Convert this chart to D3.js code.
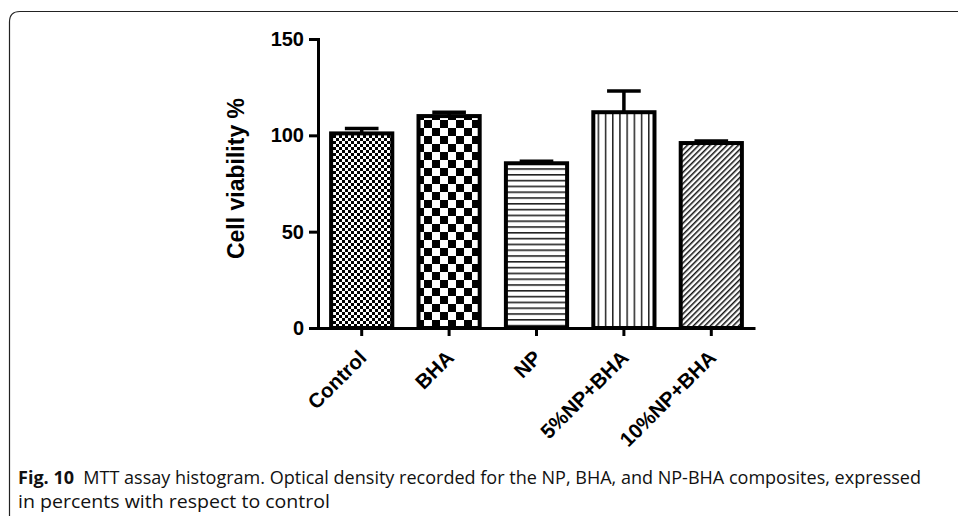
<!DOCTYPE html>
<html>
<head>
<meta charset="utf-8">
<script src="https://cdn.jsdelivr.net/npm/d3@7"></script>
<style>
  body { margin: 0; background: #fff; }
  svg { display: block; }
</style>
</head>
<body>
<div id="chart"></div>
<script>
// chart data
const categories = ['Control', 'BHA', 'NP', '5%NP+BHA', '10%NP+BHA'];
const viability = [101, 110, 85.5, 112, 96];
const errorUp = [2.5, 2, 1, 11, 1];
const yTicks = [0, 50, 100, 150];
const patternIds = ['fine-check', 'coarse-check', 'hlines', 'vlines', 'diag'];

const W = 958, H = 516;
const margin = {top: 39, left: 318, right: 203, bottom: 188};

const svg = d3.select('#chart')
  .append('svg')
  .attr('width', W)
  .attr('height', H);

// frame (rounded top-left corner)
svg.append('path')
  .attr('d', 'M9.5,516 L9.5,22 Q9.5,11.5 20,11.5 L958,11.5')
  .attr('fill', 'none')
  .attr('stroke', '#222')
  .attr('stroke-width', 1.2);

// fill patterns
const defs = svg.append('defs');

let p = defs.append('pattern').attr('id', 'fine-check')
  .attr('patternUnits', 'userSpaceOnUse').attr('width', 6).attr('height', 6);
p.append('rect').attr('width', 6).attr('height', 6).attr('fill', '#fff');
p.append('rect').attr('width', 3).attr('height', 3).attr('fill', '#000');
p.append('rect').attr('x', 3).attr('y', 3).attr('width', 3).attr('height', 3).attr('fill', '#000');

p = defs.append('pattern').attr('id', 'coarse-check')
  .attr('patternUnits', 'userSpaceOnUse').attr('width', 16).attr('height', 16);
p.append('rect').attr('width', 16).attr('height', 16).attr('fill', '#fff');
p.append('rect').attr('width', 8).attr('height', 8).attr('fill', '#000');
p.append('rect').attr('x', 8).attr('y', 8).attr('width', 8).attr('height', 8).attr('fill', '#000');

p = defs.append('pattern').attr('id', 'hlines')
  .attr('patternUnits', 'userSpaceOnUse').attr('width', 6).attr('height', 5.8);
p.append('rect').attr('width', 6).attr('height', 5.8).attr('fill', '#fff');
p.append('rect').attr('y', 0).attr('width', 6).attr('height', 1.6).attr('fill', '#222');

p = defs.append('pattern').attr('id', 'vlines')
  .attr('patternUnits', 'userSpaceOnUse').attr('width', 7.2).attr('height', 6);
p.append('rect').attr('width', 7.2).attr('height', 6).attr('fill', '#fff');
p.append('rect').attr('x', 0).attr('width', 1.5).attr('height', 6).attr('fill', '#222');

p = defs.append('pattern').attr('id', 'diag')
  .attr('patternUnits', 'userSpaceOnUse').attr('width', 4).attr('height', 4)
  .attr('patternTransform', 'rotate(45)');
p.append('rect').attr('width', 4).attr('height', 4).attr('fill', '#fff');
p.append('rect').attr('width', 1.5).attr('height', 4).attr('fill', '#111');

// scales
const x = d3.scaleBand()
  .domain(categories)
  .range([margin.left, W - margin.right])
  .paddingInner(0.3)
  .paddingOuter(0.15);

const y = d3.scaleLinear()
  .domain([0, 150])
  .range([H - margin.bottom, margin.top]);

const g = svg.append('g');

// bars
g.selectAll('rect.bar')
  .data(categories)
  .enter()
  .append('rect')
  .attr('class', 'bar')
  .attr('x', d => x(d))
  .attr('y', (d, i) => y(viability[i]))
  .attr('width', x.bandwidth())
  .attr('height', (d, i) => y(0) - y(viability[i]))
  .attr('fill', (d, i) => `url(#${patternIds[i]})`)
  .attr('stroke', '#000')
  .attr('stroke-width', 4);

// error bars (upper only)
const cap = x.bandwidth() * 0.55;
categories.forEach((c, i) => {
  const cx = x(c) + x.bandwidth() / 2;
  const top = y(viability[i] + errorUp[i]);
  g.append('line')
    .attr('x1', cx).attr('x2', cx)
    .attr('y1', y(viability[i])).attr('y2', top)
    .attr('stroke', '#000').attr('stroke-width', 3.5);
  g.append('line')
    .attr('x1', cx - cap / 2).attr('x2', cx + cap / 2)
    .attr('y1', top).attr('y2', top)
    .attr('stroke', '#000').attr('stroke-width', 3.5);
});

// y axis
const yAxis = svg.append('g')
  .attr('transform', `translate(${margin.left},0)`)
  .call(d3.axisLeft(y).tickValues(yTicks).tickSize(9).tickPadding(5));
yAxis.select('.domain').attr('stroke-width', 3);
yAxis.selectAll('.tick line').attr('stroke-width', 3);
yAxis.selectAll('.tick text')
  .style('font-family', 'Arial, "Liberation Sans", sans-serif')
  .style('font-weight', 'bold')
  .style('font-size', '20px')
  .attr('fill', '#000');

// x axis
const xAxis = svg.append('g')
  .attr('transform', `translate(0,${y(0)})`)
  .call(d3.axisBottom(x).tickSize(8).tickSizeOuter(0));
xAxis.select('.domain').attr('stroke-width', 3);
xAxis.selectAll('.tick line').attr('stroke-width', 3);
xAxis.selectAll('.tick text')
  .style('font-family', 'Arial, "Liberation Sans", sans-serif')
  .style('font-weight', 'bold')
  .style('font-size', '20.5px')
  .attr('fill', '#000')
  .attr('text-anchor', 'end')
  .attr('y', 0)
  .attr('dy', '0.35em')
  .attr('transform', 'translate(1,26) rotate(-45)');

// y axis title
svg.append('text')
  .attr('transform', 'translate(243.5,178.5) rotate(-90)')
  .attr('text-anchor', 'middle')
  .style('font-family', 'Arial, "Liberation Sans", sans-serif')
  .style('font-weight', 'bold')
  .style('font-size', '23px')
  .text('Cell viability %');

// caption
const cap1 = svg.append('text')
  .attr('x', 18).attr('y', 484)
  .attr('textLength', 903)
  .attr('lengthAdjust', 'spacingAndGlyphs')
  .style('font-family', '"Open Sans", "Noto Sans", sans-serif')
  .style('font-size', '17.5px')
  .attr('fill', '#111');
cap1.append('tspan').style('font-weight', 'bold').text('Fig. 10');
cap1.append('tspan').attr('dx', 9)
  .text('MTT assay histogram. Optical density recorded for the NP, BHA, and NP-BHA composites, expressed');

svg.append('text')
  .attr('x', 18).attr('y', 508)
  .attr('textLength', 312)
  .attr('lengthAdjust', 'spacingAndGlyphs')
  .style('font-family', '"Open Sans", "Noto Sans", sans-serif')
  .style('font-size', '17.5px')
  .attr('fill', '#111')
  .text('in percents with respect to control');
</script>
</body>
</html>
